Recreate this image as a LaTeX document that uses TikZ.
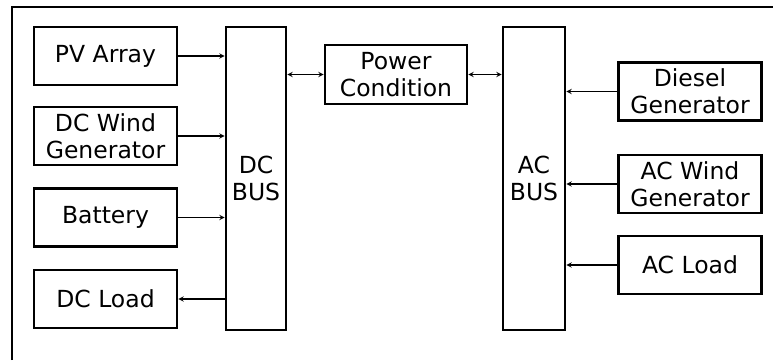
\documentclass[tikz,border=0pt]{standalone}
\usepackage{fontspec}
\setmainfont{DejaVu Sans}
\begin{document}
\begin{tikzpicture}[x=1pt, y=-1pt, >=stealth,
    blk/.style={draw, line width=2.6pt, minimum width=143pt, minimum height=58pt,
        inner sep=0pt, align=center, font=\fontsize{23.5}{27}\selectfont},
    bus/.style={blk, minimum width=60pt, minimum height=303pt},
    link/.style={->, line width=1.4pt}]
        \useasboundingbox (0,0) rectangle (773,360);

        % Frame
        \draw[line width=1.2pt] (12,360) -- (12,7) -- (773,7);

        % DC side
        \node[blk] (pv) at (105.5,56) {PV Array};
        \node[blk] (dcwind) at (105.5,136) {DC Wind\\Generator};
        \node[blk] (batt) at (105.5,217.5) {Battery};
        \node[blk] (dcload) at (105.5,299) {DC Load};
        \node[bus] (dcbus) at (256,178.5) {DC\\BUS};

        % Power condition
        \node[blk, minimum width=142pt, minimum height=59pt] (pcond) at (396,74.5) {Power\\Condition};

        % AC side
        \node[bus, minimum width=62pt] (acbus) at (534,178.5) {AC\\BUS};
        \node[blk] (diesel) at (690,91.5) {Diesel\\Generator};
        \node[blk] (acwind) at (690,184) {AC Wind\\Generator};
        \node[blk] (acload) at (690,265) {AC Load};

        % Connections to DC bus
        \draw[link] (pv) -- (pv -| dcbus.west);
        \draw[link] (dcwind) -- (dcwind -| dcbus.west);
        \draw[link] (batt) -- (batt -| dcbus.west);
        \draw[link] (dcload -| dcbus.west) -- (dcload);

        % Bus to bus through power condition
        \draw[link, <->] (pcond -| dcbus.east) -- (pcond);
        \draw[link, <->] (pcond) -- (pcond -| acbus.west);

        % Connections to AC bus
        \draw[link] (diesel) -- (diesel -| acbus.east);
        \draw[link] (acwind) -- (acwind -| acbus.east);
        \draw[link] (acload) -- (acload -| acbus.east);
\end{tikzpicture}
\end{document}
